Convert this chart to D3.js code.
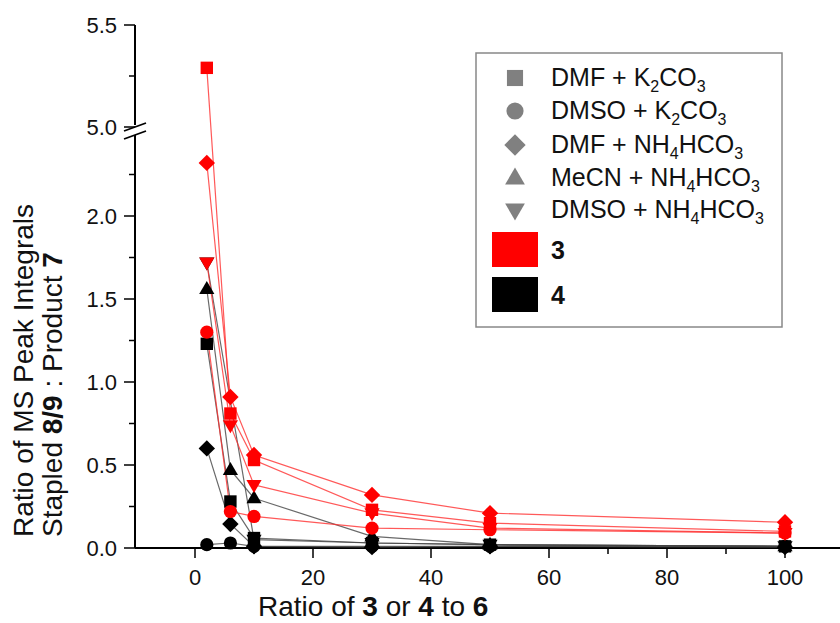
<!DOCTYPE html>
<html>
<head>
<meta charset="utf-8">
<script src="https://cdn.jsdelivr.net/npm/d3@7"></script>
<style>
  body { margin: 0; background: #fff; }
  svg { display: block; font-family: "Liberation Sans", Arial, sans-serif; }
</style>
</head>
<body>
<div id="chart"></div>
<script>
var width = 840,
  height = 623;

// ratio of 3 or 4 to 6
var xVals = [2, 6, 10, 30, 50, 100];

// compound 3 (red)
var c3Square = [5.29, 0.81, 0.53, 0.23, 0.15, 0.10];   // DMF + K2CO3
var c3Circle = [1.30, 0.22, 0.19, 0.12, 0.11, 0.09];   // DMSO + K2CO3
var c3Diamond = [2.32, 0.91, 0.56, 0.32, 0.21, 0.155]; // DMF + NH4HCO3
var c3TriDown = [1.72, 0.74, 0.38, 0.21, 0.12, 0.09];  // DMSO + NH4HCO3

// compound 4 (black)
var c4Square = [1.23, 0.28, 0.06, 0.03, 0.02, 0.01];
var c4Circle = [0.02, 0.03, 0.01, 0.01, 0.01, 0.01];
var c4Diamond = [0.60, 0.145, 0.01, 0.005, 0.01, 0.005];
var c4TriUp = [1.56, 0.47, 0.30, 0.07, 0.02, 0.01];    // MeCN + NH4HCO3
var c4TriDown = [1.72, null, 0.05, 0.03, 0.02, 0.01];

var xTicks = [0, 20, 40, 60, 80, 100];
var xMinor = [10, 30, 50, 70, 90];
var yLowTicks = [0, 0.5, 1.0, 1.5, 2.0];
var yLowMinor = [0.25, 0.75, 1.25, 1.75, 2.25];
var yHighTicks = [5.0, 5.5];
var yHighMinor = [5.25];

var legendLabels = [
  { shape: "square", parts: ["DMF + K", "2", "CO", "3"] },
  { shape: "circle", parts: ["DMSO + K", "2", "CO", "3"] },
  { shape: "diamond", parts: ["DMF + NH", "4", "HCO", "3"] },
  { shape: "triUp", parts: ["MeCN + NH", "4", "HCO", "3"] },
  { shape: "triDown", parts: ["DMSO + NH", "4", "HCO", "3"] }
];

var series = [
  { color: "black", shape: "square", v: c4Square },
  { color: "black", shape: "circle", v: c4Circle },
  { color: "black", shape: "diamond", v: c4Diamond },
  { color: "black", shape: "triUp", v: c4TriUp },
  { color: "black", shape: "triDown", v: c4TriDown },
  { color: "red", shape: "square", v: c3Square },
  { color: "red", shape: "circle", v: c3Circle },
  { color: "red", shape: "diamond", v: c3Diamond },
  { color: "red", shape: "triDown", v: c3TriDown }
];

var x = d3.scaleLinear().domain([-10, 110]).range([136, 844]);
var yLow = d3.scaleLinear().domain([0, 2.5]).range([548, 133]);
var yHigh = d3.scaleLinear().domain([5.0, 5.5]).range([127, 25]);
function yPos(v) { return v >= 4 ? yHigh(v) : yLow(v); }

var svg = d3.select("#chart").append("svg")
  .attr("width", width).attr("height", height);

// marker shapes, s = scale factor
function shapePath(shape, s) {
  var p = d3.path();
  if (shape == "square") {
    var h = 6.2 * s; p.rect(-h, -h, 2 * h, 2 * h);
  } else if (shape == "circle") {
    p.arc(0, 0, 6.6 * s, 0, 2 * Math.PI);
  } else if (shape == "diamond") {
    var d = 8.2 * s;
    p.moveTo(0, -d); p.lineTo(d, 0); p.lineTo(0, d); p.lineTo(-d, 0); p.closePath();
  } else if (shape == "triUp") {
    var w = 7.6 * s;
    p.moveTo(0, -8 * s); p.lineTo(w, 5 * s); p.lineTo(-w, 5 * s); p.closePath();
  } else {
    var w2 = 7.6 * s;
    p.moveTo(0, 8 * s); p.lineTo(w2, -5 * s); p.lineTo(-w2, -5 * s); p.closePath();
  }
  return p.toString();
}

// axes
var ax = svg.append("g").attr("stroke", "black").attr("fill", "none");
ax.append("line").attr("x1", 135).attr("x2", 844).attr("y1", 548).attr("y2", 548).attr("stroke-width", 2);
ax.append("line").attr("x1", 135).attr("x2", 135).attr("y1", yHigh(5.5)).attr("y2", 125).attr("stroke-width", 2);
ax.append("line").attr("x1", 135).attr("x2", 135).attr("y1", 135).attr("y2", 548).attr("stroke-width", 2);
// axis break
ax.append("line").attr("x1", 124).attr("y1", 131).attr("x2", 146).attr("y2", 123).attr("stroke-width", 1.8);
ax.append("line").attr("x1", 124).attr("y1", 139).attr("x2", 146).attr("y2", 131).attr("stroke-width", 1.8);

yLowTicks.concat(yHighTicks).forEach(function (t) {
  ax.append("line").attr("x1", 124).attr("x2", 135).attr("y1", yPos(t)).attr("y2", yPos(t)).attr("stroke-width", 1.5);
});
yLowMinor.concat(yHighMinor).forEach(function (t) {
  ax.append("line").attr("x1", 129).attr("x2", 135).attr("y1", yPos(t)).attr("y2", yPos(t)).attr("stroke-width", 1.5);
});
xTicks.forEach(function (t) {
  ax.append("line").attr("x1", x(t)).attr("x2", x(t)).attr("y1", 548).attr("y2", 558).attr("stroke-width", 1.5);
});
xMinor.forEach(function (t) {
  ax.append("line").attr("x1", x(t)).attr("x2", x(t)).attr("y1", 548).attr("y2", 554).attr("stroke-width", 1.5);
});

var lbl = svg.append("g").attr("font-size", 22).attr("fill", "#111");
yLowTicks.concat(yHighTicks).forEach(function (t) {
  lbl.append("text").attr("x", 117).attr("y", yPos(t) + 8).attr("text-anchor", "end").text(t.toFixed(1));
});
xTicks.forEach(function (t) {
  lbl.append("text").attr("x", x(t)).attr("y", 585).attr("text-anchor", "middle").text(t);
});

// axis titles
var xt = svg.append("text").attr("x", 258).attr("y", 616).attr("font-size", 28).attr("fill", "#111");
[["Ratio of ", 0], ["3", 1], [" or ", 0], ["4", 1], [" to ", 0], ["6", 1]].forEach(function (p) {
  xt.append("tspan").attr("font-weight", p[1] ? "bold" : "normal").text(p[0]);
});
svg.append("text").attr("transform", "translate(33,537) rotate(-90)")
  .attr("font-size", 28).attr("fill", "#111").text("Ratio of MS Peak Integrals");
var yt2 = svg.append("text").attr("transform", "translate(62,537) rotate(-90)")
  .attr("font-size", 28).attr("fill", "#111");
[["Stapled ", 0], ["8/9", 1], [" : Product ", 0], ["7", 1]].forEach(function (p) {
  yt2.append("tspan").attr("font-weight", p[1] ? "bold" : "normal").text(p[0]);
});

// lines and markers
var line = d3.line()
  .defined(function (d) { return d[1] != null; })
  .x(function (d) { return x(d[0]); })
  .y(function (d) { return yPos(d[1]); });

var plot = svg.append("g");
series.forEach(function (s) {
  var pts = xVals.map(function (xv, i) { return [xv, s.v[i]]; });
  plot.append("path")
    .attr("d", line(pts.filter(function (d) { return d[1] != null; })))
    .attr("fill", "none")
    .attr("stroke", s.color == "red" ? "#ff3030" : "#444")
    .attr("stroke-opacity", 0.8)
    .attr("stroke-width", 1.2);
});
series.forEach(function (s) {
  xVals.forEach(function (xv, i) {
    if (s.v[i] == null) return;
    plot.append("path")
      .attr("d", shapePath(s.shape, 1))
      .attr("transform", "translate(" + x(xv) + "," + yPos(s.v[i]) + ")")
      .attr("fill", s.color == "red" ? "#ff0000" : "#000");
  });
});

// legend
var lg = svg.append("g");
lg.append("rect").attr("x", 476).attr("y", 53).attr("width", 306).attr("height", 274)
  .attr("fill", "white").attr("stroke", "#888").attr("stroke-width", 1.5);
var rowY = [78, 111, 145, 178, 210];
legendLabels.forEach(function (l, i) {
  lg.append("path").attr("d", shapePath(l.shape, 1.3))
    .attr("transform", "translate(515," + rowY[i] + ")").attr("fill", "#808080");
  var t = lg.append("text").attr("x", 551).attr("y", rowY[i] + 8).attr("font-size", 25).attr("fill", "#111");
  t.append("tspan").text(l.parts[0]);
  t.append("tspan").attr("font-size", 16).attr("dy", 6).text(l.parts[1]);
  t.append("tspan").attr("dy", -6).text(l.parts[2]);
  t.append("tspan").attr("font-size", 16).attr("dy", 6).text(l.parts[3]);
});
[["#ff0000", "3", 232], ["#000", "4", 277]].forEach(function (c) {
  lg.append("rect").attr("x", 492).attr("y", c[2]).attr("width", 46).attr("height", 35).attr("fill", c[0]);
  lg.append("text").attr("x", 551).attr("y", c[2] + 27).attr("font-size", 25)
    .attr("font-weight", "bold").attr("fill", "#111").text(c[1]);
});
</script>
</body>
</html>
